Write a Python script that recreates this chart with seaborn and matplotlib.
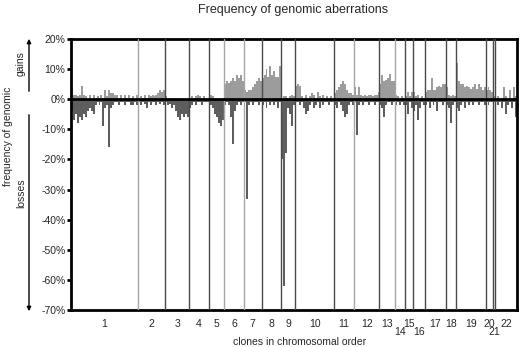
import numpy as np
import pandas as pd
import seaborn as sns
import matplotlib.pyplot as plt
import matplotlib.transforms as mtransforms

# per-chromosome frequencies (%) of gains and losses, clones in chromosomal order
gain_c1 = [4, 1.5, 1.5, 1, 1.5, 4.5, 1.5, 1, 0, 1.5, 0, 1.5, 0, 1, 0, 1.5, 0.5, 3, 1, 3,
           2, 2, 1.5, 1.5, 0, 1.5, 0, 1.5, 0, 1.5, 0, 1, 0, 1.5]
loss_c1 = [-4, -7, -5, -8, -6, -7, -5, -6, -4, -3, -4, -5, -2, -1, -2, -1, -9, -3, -2, -16,
           -3, -2, -1, -1, -2, -1, -1, -2, -1, -1, -2, -2, -1, -2]
gain_c2 = [0, 1, 0, 1.5, 0, 1.5, 1, 1.5, 1, 1.5, 2, 3, 2.5, 3]
loss_c2 = [-1, -2, -1, -1.5, -3, -1, -2, -1, -1, -2, -1, -1.5, -1, -2]
gain_c3 = [1, 0, 0.5, 0, 0, 0, 0, 0, 0, 0, 0, 0]
loss_c3 = [-1, -2, -1.5, -3, -2, -4, -6, -7, -5, -6, -5, -6]
gain_c4 = [0, 1, 0, 1, 1.5, 1, 0, 1, 0, 0]
loss_c4 = [-3, -2, -1, -2, -1, -1, -2, -1, -1, -1]
gain_c5 = [1.5, 1.5, 1, 0, 0, 0, 0, 0]
loss_c5 = [-1, -2, -3, -5, -6, -8, -9, -7]
gain_c6 = [5, 6, 5.5, 6, 7, 6, 8, 7, 8, 6]
loss_c6 = [-2, -1, -2, -6, -15, -4, -2, -1, -2, -1]
gain_c7 = [3, 2.5, 3, 3, 4, 5, 6, 7, 6]
loss_c7 = [-1, -33, -2, -1, -2, -1, -1, -2, -1]
gain_c8 = [7, 8, 10, 7.5, 11, 8, 9.5, 7.5, 7.5, 11]
loss_c8 = [-2, -1, -3, -1, -2, -1, -2, -1, -3, -1]
gain_c9 = [0, 1, 1, 0.5, 1, 1.5, 1]
loss_c9 = [-20, -62, -18, -3, -5, -9, -2]
gain_c10 = [4.5, 5, 4.5, 1, 0, 1.5, 0, 1, 2, 1.5, 0, 2.5, 1, 0, 1.5, 0, 1, 0, 1, 0]
loss_c10 = [-1, -1, -2, -1, -3, -5, -4, -2, -1, -3, -2, -1, -3, -1, -2, -1, -1, -2, -1, -1]
gain_c11 = [2, 3, 4, 5, 6, 5, 3, 2, 2, 1.5]
loss_c11 = [-2, -3, -1, -2, -4, -6, -5, -2, -1, -2]
gain_c12 = [4, 1.5, 4, 1.5, 1, 1.5, 1, 1.5, 1.5, 1, 1.5, 1.5, 2.5]
loss_c12 = [-1, -12, -2, -1, -2, -1, -1, -2, -1, -1, -2, -1, -1]
gain_c13 = [5, 8, 6, 6.5, 7, 8.5, 6, 6]
loss_c13 = [-2, -3, -6, -2, -1, -1, -2, -1]
gain_c14 = [1.5, 1, 0, 1, 0.5]
loss_c14 = [-2, -1, -2, -1, -2]
gain_c15 = [1, 2.5, 1, 2.5]
loss_c15 = [-2, -5, -1, -3]
gain_c16 = [2.5, 1, 1.5, 0.5, 1, 0]
loss_c16 = [-4, -2, -7, -3, -1, -2]
gain_c17 = [2.5, 3, 3, 7, 3, 3, 4, 4.5, 4, 5, 5]
loss_c17 = [-2, -1, -3, -1, -2, -1, -4, -1, -1, -2, -1]
gain_c18 = [4, 1.5, 1, 1.5, 1]
loss_c18 = [-2, -3, -8, -2, -1]
gain_c19 = [12, 6, 5, 5, 4, 4.5, 4, 3.5, 4, 5, 3.5, 5, 4, 3, 4]
loss_c19 = [-3, -4, -2, -1, -3, -1, -2, -1, -2, -1, -1, -2, -1, -1, -2]
gain_c20 = [3, 4, 3, 2.5]
loss_c20 = [-1, -2, -1, -1]
gain_c21 = [1]
loss_c21 = [-1]
gain_c22 = [0, 1, 0, 0.5, 4, 1, 0, 3, 0, 4, 1]
loss_c22 = [-1, -2, -1, -3, -1, -5, -2, -1, -3, -1, -6]

chrom_names = [str(i) for i in range(1, 23)]
y_ticks = [20, 10, 0, -10, -20, -30, -40, -50, -60, -70]

gains = [gain_c1, gain_c2, gain_c3, gain_c4, gain_c5, gain_c6, gain_c7, gain_c8,
         gain_c9, gain_c10, gain_c11, gain_c12, gain_c13, gain_c14, gain_c15,
         gain_c16, gain_c17, gain_c18, gain_c19, gain_c20, gain_c21, gain_c22]
losses = [loss_c1, loss_c2, loss_c3, loss_c4, loss_c5, loss_c6, loss_c7, loss_c8,
          loss_c9, loss_c10, loss_c11, loss_c12, loss_c13, loss_c14, loss_c15,
          loss_c16, loss_c17, loss_c18, loss_c19, loss_c20, loss_c21, loss_c22]

sizes = [len(g) for g in gains]
n = sum(sizes)
clone = np.arange(n)
df = pd.concat([
    pd.DataFrame({"clone": clone, "freq": np.concatenate(gains), "kind": "gain"}),
    pd.DataFrame({"clone": clone, "freq": np.concatenate(losses), "kind": "loss"}),
])

sns.set_theme(style="white")
plt.rcParams["font.family"] = ["Liberation Sans", "DejaVu Sans"]

fig = plt.figure(figsize=(5.2, 3.47), dpi=100)
ax = fig.add_axes([71 / 520, 1 - 310 / 347, 446 / 520, 271 / 347])

sns.barplot(data=df, x="clone", y="freq", hue="kind",
            palette={"gain": "#9c9c9c", "loss": "#5e5e5e"},
            native_scale=True, dodge=False, width=1, saturation=1,
            errorbar=None, linewidth=0, legend=False, ax=ax, zorder=2)

# chromosome boundaries
edges = np.cumsum(sizes)[:-1] - 0.5
light = {1, 5, 6, 11, 13}
for k, e in enumerate(edges, start=1):
    ax.axvline(e, color="#a6a6a6" if k in light else "#4a4a4a", lw=1.0, zorder=3)
ax.axhline(0, color="black", lw=2, zorder=4)

ax.set_xlim(-0.5, n - 0.5)
ax.set_ylim(-70, 20)
ax.set_yticks(y_ticks)
ax.set_yticklabels([f"{v}%" for v in y_ticks], fontsize=7.5)
ax.set_xticks([])
ax.set_xlabel("")
ax.set_ylabel("")
ax.tick_params(axis="y", left=True, length=3, width=2, pad=1, color="black")
for s in ax.spines.values():
    s.set_visible(True)
    s.set_color("black")
    s.set_linewidth(2)

# chromosome labels, some staggered lower
starts = np.concatenate([[0], np.cumsum(sizes)[:-1]])
centers = starts + np.array(sizes) / 2 - 0.5
trans = mtransforms.blended_transform_factory(ax.transData, ax.transAxes)
lowered = {"14", "16", "21"}
for name, c in zip(chrom_names, centers):
    yy = -0.083 if name in lowered else -0.052
    ax.text(c, yy, name, transform=trans, ha="center", va="center", fontsize=7.5)

fig.text(300 / 520, 1 - 342 / 347, "clones in chromosomal order",
         ha="center", va="center", fontsize=7.5)
fig.text(293 / 520, 1 - 10 / 347, "Frequency of genomic aberrations",
         ha="center", va="center", fontsize=9)

# left annotation: frequency of genomic gains / losses
fig.text(8 / 520, 1 - 136 / 347, "frequency of genomic", rotation=90,
         ha="center", va="center", fontsize=7.5)
fig.text(21 / 520, 1 - 64 / 347, "gains", rotation=90,
         ha="center", va="center", fontsize=7.5)
fig.text(21 / 520, 1 - 193 / 347, "losses", rotation=90,
         ha="center", va="center", fontsize=7.5)
arrow = dict(arrowstyle="-|>", color="black", lw=1, mutation_scale=6)
ax.annotate("", xy=(29 / 520, 1 - 36 / 347), xytext=(29 / 520, 1 - 94 / 347),
            xycoords="figure fraction", arrowprops=arrow)
ax.annotate("", xy=(29 / 520, 1 - 314 / 347), xytext=(29 / 520, 1 - 112 / 347),
            xycoords="figure fraction", arrowprops=arrow)

fig.savefig("out.png", dpi=100)
